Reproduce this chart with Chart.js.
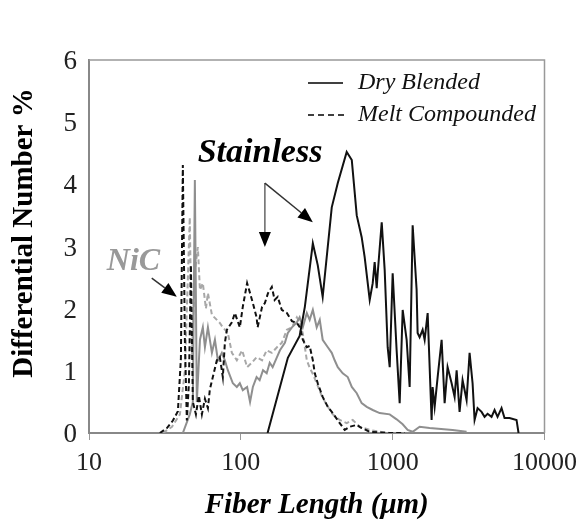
<!DOCTYPE html>
<html>
<head>
<meta charset="utf-8">
<script src="https://cdn.jsdelivr.net/npm/chart.js@4.4.0/dist/chart.umd.min.js"></script>
<style>
  html, body { margin: 0; padding: 0; background: #fff; }
  #wrap { width: 585px; height: 523px; }
</style>
</head>
<body>
<div id="wrap"><canvas id="fiberChart"></canvas></div>
<script>
// Fiber length distributions (differential number %), x in µm
const ssDryX = [150,181,204,244,264,298,321,346,397,435,498,538,580,625,654,706,739,761,785,797,847,886,927,956,1000,1062,1112,1164,1236,1294,1354,1438,1460,1505,1575,1624,1700,1805,1833,1890,1978,2101,2199,2300,2445,2558,2638,2759,2887,3068,3211,3360,3464,3624,3850,4030,4217,4480,4690,4907,5213,5455,5885,6544,6745];
const ssDryY = [0,0.74,1.21,1.56,2.03,3.05,2.70,2.19,3.63,4.02,4.52,4.39,3.50,3.15,2.83,2.14,2.41,2.75,2.33,2.57,3.39,2.62,1.38,1.06,2.57,1.33,0.48,1.98,1.50,0.74,3.34,2.30,1.61,1.54,1.66,1.50,1.93,0.21,0.74,0.42,0.90,1.50,0.48,1.06,0.80,0.58,1.01,0.34,0.85,0.53,1.29,0.80,0.21,0.40,0.34,0.26,0.31,0.26,0.37,0.26,0.40,0.24,0.24,0.21,0];

const ssMeltX = [29.3,32.6,35.7,38.5,40.3,41.5,42.8,44.1,45.5,46.9,48.3,50.6,52.9,55.4,58.0,60.7,62.5,65.4,69.5,72.7,76.1,78.5,80.9,87.3,91.3,98.5,103,110,115,120,127,129,138,144,151,160,167,175,186,201,217,234,245,256,272,284,298,307,321,346,374,403,448,483,521,580,625,706,956,1199];
const ssMeltY = [0,0.08,0.2,0.35,1.2,4.31,1.5,0.2,0.8,2.7,0.5,0.3,0.6,0.3,0.55,0.4,0.7,0.9,1.17,1.22,0.9,1.45,1.66,1.78,1.93,1.7,2.03,2.41,2.25,2.09,1.86,1.7,2.03,2.09,2.25,2.35,2.14,2.19,1.98,1.93,1.8,1.77,1.7,1.5,1.38,1.4,1.17,0.96,0.8,0.58,0.42,0.32,0.16,0.05,0.1,0.13,0.08,0.02,0,0];

const nicDryX = [41.5,46.1,48.3,49.8,51.3,53.8,56.2,58.0,60.7,64.5,67.5,70.6,75.0,78.5,82.1,88.6,94.1,98.5,103,110,115,120,127,133,140,148,155,162,173,181,195,204,217,234,244,256,272,284,298,316,331,346,374,397,415,435,469,506,538,580,625,675,739,821,956,1062,1164,1255,1354,1505,1751,2481,3068];
const nicDryY = [0,0.3,0.5,4.07,0.5,1.5,1.7,1.38,1.7,1.29,1.5,1.17,1.29,1.17,1.01,0.8,0.74,0.8,0.69,0.74,0.5,0.74,0.9,0.85,1.01,0.96,1.13,1.06,1.22,1.33,1.45,1.61,1.7,1.78,1.86,1.7,1.93,1.82,1.98,1.7,1.82,1.5,1.38,1.29,1.17,1.06,0.96,0.9,0.74,0.64,0.48,0.42,0.37,0.32,0.3,0.22,0.14,0.05,0.02,0.1,0.08,0.05,0.02];

const nicMeltX = [30.7,35.2,39.7,42.8,44.8,46.1,47.6,49.8,52.1,53.8,56.2,58.9,60.7,64.5,69.5,72.7,76.1,82.1,87.3,94.1,102,110,118,127,138,148,160,173,186,201,217,234,245,256,272,284,298,316,341,368,403,448,498,546,607,706,821,956];
const nicMeltY = [0,0.1,0.3,1.0,2.5,3.47,1.2,2.6,2.99,2.3,2.41,2.0,2.25,1.9,1.82,1.77,1.7,1.61,1.29,1.17,1.33,1.06,1.13,1.22,1.17,1.33,1.29,1.38,1.45,1.66,1.7,1.86,1.77,1.6,1.17,1.05,0.95,0.8,0.6,0.45,0.3,0.21,0.16,0.21,0.1,0.05,0.02,0];

const xTicks = [10, 100, 1000, 10000];
const xTickLabels = ['10', '100', '1000', '10000'];
const legendLabels = ['Dry Blended', 'Melt Compounded'];

const FONT = 'Liberation Serif';

function pts(xs, ys) {
    return xs.map((x, i) => ({ x: x, y: ys[i] }));
}

function arrow(ctx, x1, y1, x2, y2, lineColor) {
    const ang = Math.atan2(y2 - y1, x2 - x1);
    const len = 15, half = 6;
    const bx = x2 - len * Math.cos(ang), by = y2 - len * Math.sin(ang);
    ctx.strokeStyle = lineColor;
    ctx.lineWidth = 1.5;
    ctx.setLineDash([]);
    ctx.beginPath();
    ctx.moveTo(x1, y1);
    ctx.lineTo(bx, by);
    ctx.stroke();
    ctx.fillStyle = '#000';
    ctx.beginPath();
    ctx.moveTo(x2, y2);
    ctx.lineTo(bx + half * Math.sin(ang), by - half * Math.cos(ang));
    ctx.lineTo(bx - half * Math.sin(ang), by + half * Math.cos(ang));
    ctx.closePath();
    ctx.fill();
}

// frame, legend, y title and the material labels with their arrows
const extras = {
    id: 'extras',
    afterDraw(chart) {
        const { ctx, chartArea: a, scales: { x, y } } = chart;
        ctx.save();

        ctx.strokeStyle = '#999';
        ctx.lineWidth = 1.5;
        ctx.beginPath();
        ctx.moveTo(a.left, a.top);
        ctx.lineTo(a.right, a.top);
        ctx.lineTo(a.right, a.bottom);
        ctx.stroke();

        // legend
        ctx.strokeStyle = '#000';
        ctx.lineWidth = 1.5;
        ctx.beginPath();
        ctx.moveTo(a.left + 219, a.top + 23);
        ctx.lineTo(a.left + 254, a.top + 23);
        ctx.stroke();
        ctx.setLineDash([6, 4]);
        ctx.beginPath();
        ctx.moveTo(a.left + 219, a.top + 55);
        ctx.lineTo(a.left + 256, a.top + 55);
        ctx.stroke();
        ctx.setLineDash([]);
        ctx.fillStyle = '#111';
        ctx.font = 'italic 24px "' + FONT + '"';
        ctx.textAlign = 'left';
        ctx.textBaseline = 'middle';
        ctx.fillText(legendLabels[0], a.left + 269, a.top + 23);
        ctx.fillText(legendLabels[1], a.left + 269, a.top + 55);

        // y axis title
        ctx.save();
        ctx.translate(25, 233);
        ctx.rotate(-Math.PI / 2);
        ctx.font = 'bold 29px "' + FONT + '"';
        ctx.textAlign = 'center';
        ctx.fillStyle = '#000';
        ctx.fillText('Differential Number %', 0, 0);
        ctx.restore();

        // Stainless label and arrows
        ctx.font = 'italic bold 34px "' + FONT + '"';
        ctx.textBaseline = 'alphabetic';
        ctx.fillStyle = '#000';
        ctx.fillText('Stainless', x.getPixelForValue(52), y.getPixelForValue(4.36));
        const ox = x.getPixelForValue(144), oy = y.getPixelForValue(4.02);
        arrow(ctx, ox, oy, x.getPixelForValue(144), y.getPixelForValue(2.99), '#666');
        arrow(ctx, ox, oy, x.getPixelForValue(298), y.getPixelForValue(3.39), '#333');

        // NiC label and arrow
        ctx.font = 'italic bold 32px "' + FONT + '"';
        ctx.fillStyle = '#999';
        ctx.fillText('NiC', x.getPixelForValue(13.1), y.getPixelForValue(2.62));
        arrow(ctx, x.getPixelForValue(25.9), y.getPixelForValue(2.49),
              x.getPixelForValue(37.9), y.getPixelForValue(2.19), '#333');

        ctx.restore();
    }
};

const ctx = document.getElementById('fiberChart').getContext('2d');
new Chart(ctx, {
    type: 'line',
    data: {
        datasets: [
            { label: 'Stainless Dry Blended', data: pts(ssDryX, ssDryY), borderColor: '#111', borderWidth: 2 },
            { label: 'Stainless Melt Compounded', data: pts(ssMeltX, ssMeltY), borderColor: '#111', borderWidth: 2, borderDash: [5, 3] },
            { label: 'NiC Dry Blended', data: pts(nicDryX, nicDryY), borderColor: '#8f8f8f', borderWidth: 2 },
            { label: 'NiC Melt Compounded', data: pts(nicMeltX, nicMeltY), borderColor: '#a8a8a8', borderWidth: 2, borderDash: [5, 3] }
        ]
    },
    options: {
        responsive: true,
        maintainAspectRatio: false,
        animation: false,
        devicePixelRatio: 1,
        parsing: false,
        elements: { point: { radius: 0 }, line: { tension: 0, fill: false } },
        layout: { padding: { left: 0, top: 60, right: 40, bottom: 0 } },
        plugins: { legend: { display: false }, tooltip: { enabled: false } },
        scales: {
            x: {
                type: 'logarithmic',
                min: 10,
                max: 10000,
                afterBuildTicks: s => { s.ticks = xTicks.map(v => ({ value: v })); },
                afterFit: s => { s.height = 90; },
                grid: { drawOnChartArea: false, drawTicks: true, tickLength: 7, color: '#999' },
                border: { display: true, color: '#888', width: 2 },
                ticks: {
                    autoSkip: false,
                    maxRotation: 0,
                    padding: 8,
                    color: '#222',
                    font: { family: FONT, size: 26 },
                    callback: (v) => xTickLabels[xTicks.indexOf(v)]
                },
                title: {
                    display: true,
                    text: 'Fiber Length (\u03bcm)',
                    color: '#000',
                    padding: { top: 0, bottom: 0 },
                    font: { family: FONT, size: 29, style: 'italic', weight: 'bold' }
                }
            },
            y: {
                min: 0,
                max: 6,
                afterFit: s => { s.width = 89; },
                grid: { display: false, drawTicks: false },
                border: { display: true, color: '#888', width: 2 },
                ticks: {
                    stepSize: 1,
                    padding: 12,
                    labelOffset: 2,
                    color: '#222',
                    font: { family: FONT, size: 27 }
                }
            }
        }
    },
    plugins: [extras]
});
</script>
</body>
</html>
